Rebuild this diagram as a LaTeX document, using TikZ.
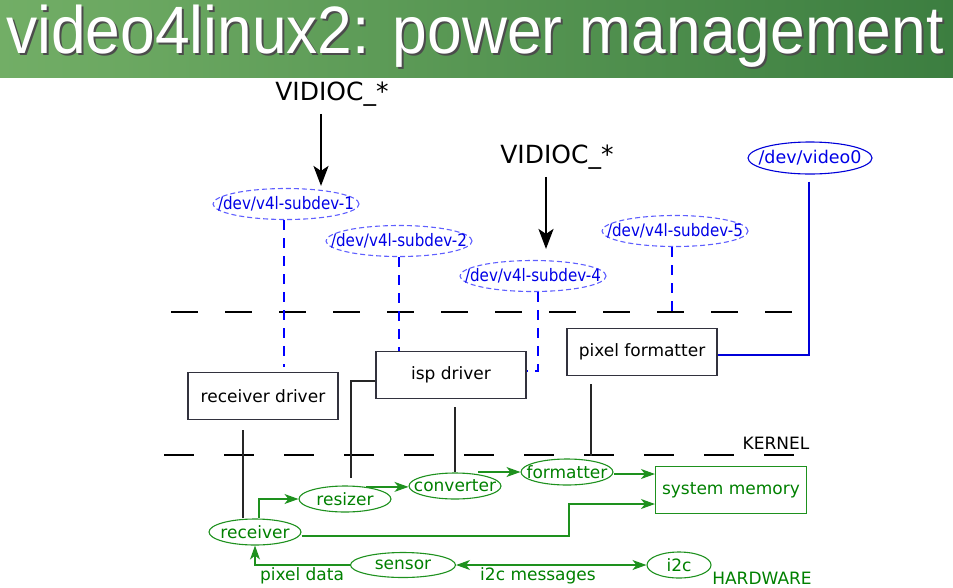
\documentclass[tikz,border=0pt]{standalone}
\usepackage{fontspec}
\setmainfont{DejaVu Sans}
\newfontfamily\titlefont{Liberation Sans}
\usetikzlibrary{shapes.geometric,arrows.meta}
\definecolor{tgL}{RGB}{114,174,102}
\definecolor{tgR}{RGB}{60,126,64}
\definecolor{hwgreen}{RGB}{0,128,0}
\definecolor{hwline}{RGB}{30,145,30}
\definecolor{devblue}{RGB}{0,0,230}
\definecolor{devline}{RGB}{95,95,255}
\definecolor{boxline}{RGB}{50,50,62}
\newcommand{\devtext}[1]{\scalebox{0.88}[1]{#1}}
\tikzset{
  fs/.style={font=\fontsize{#1}{#1}\selectfont},
  fixell/.style={ellipse, inner xsep=-80pt, inner ysep=-20pt},
  devnode/.style={fixell, draw=devline, dash pattern=on 5pt off 3pt, line width=1.1pt, text=devblue, fs=17.2, minimum width=146pt, minimum height=31pt},
  drvbox/.style={rectangle, draw=boxline, line width=1.3pt, fs=17, minimum width=150pt, minimum height=47pt, inner sep=0pt},
  hwnode/.style={fixell, draw=hwline, line width=1.1pt, text=hwgreen, fs=17, minimum width=92pt, minimum height=26pt},
  sepline/.style={line width=2.6pt, black},
  devlink/.style={draw=blue, line width=2.2pt, dash pattern=on 10pt off 8pt},
  drvlink/.style={draw=black!85, line width=1.4pt},
  garrow/.style={draw=hwline, line width=1.2pt, -{Stealth[length=14pt,width=10pt,inset=4pt]}},
  gdouble/.style={draw=hwline, line width=1.2pt, {Stealth[length=14pt,width=10pt,inset=4pt]}-{Stealth[length=14pt,width=10pt,inset=4pt]}},
  bigarrow/.style={draw=black, line width=2.5pt, -{Stealth[length=20pt,width=15pt,inset=5pt]}},
}
\begin{document}
\begin{tikzpicture}[x=1pt,y=-1pt]
\useasboundingbox (0,0) rectangle (953,587);
% title banner
\shade[left color=tgL,right color=tgR] (0,0) rectangle (953,77);
\node[font=\titlefont\fontsize{67}{67}\selectfont, text=black!70, anchor=base] (titleshadow) at (477,55) {\scalebox{0.93}[1]{video4linux2: power management}};
\node[font=\titlefont\fontsize{67}{67}\selectfont, text=white, anchor=base] (title) at (475,53) {\scalebox{0.93}[1]{video4linux2: power management}};

% separators
\coordinate (ul) at (171,312); \coordinate (ur) at (800,312);
\draw[sepline, dash pattern=on 27pt off 27pt] (ul) -- (ur);
\coordinate (kl) at (164,455); \coordinate (kr) at (796,455);
\draw[sepline, dash pattern=on 30pt off 30pt] (kl) -- (kr);
\node[fs=17, anchor=center] (kernel) at (776,443) {KERNEL};
\node[fs=17, text=hwgreen, anchor=center] (hardware) at (762,578) {HARDWARE};

% ioctl labels
\node[fs=25] (vid1) at (332,94) {VIDIOC\_*};
\node[fs=25] (vid2) at (557,157) {VIDIOC\_*};

% device nodes
\node[devnode] (dev1) at (286,204) {\devtext{/dev/v4l-subdev-1}};
\node[devnode] (dev2) at (399,241) {\devtext{/dev/v4l-subdev-2}};
\node[devnode] (dev4) at (533,276) {\devtext{/dev/v4l-subdev-4}};
\node[devnode] (dev5) at (675,231) {\devtext{/dev/v4l-subdev-5}};
\node[fixell, draw=blue!85!black, line width=1.1pt, text=devblue, fs=17.5, minimum width=124pt, minimum height=32pt] (video0) at (810,158) {/dev/video0};

% drivers
\node[drvbox] (recv) at (263,396) {receiver driver};
\node[drvbox] (isp) at (451,375) {isp driver};
\node[drvbox] (pixfmt) at (642,352) {pixel formatter};

% hardware
\node[hwnode] (rcv) at (255,532) {receiver};
\node[hwnode] (resz) at (345,499) {resizer};
\node[hwnode] (conv) at (455,486) {converter};
\node[hwnode] (fmt) at (567,472) {formatter};
\node[rectangle, draw=hwline, line width=1.1pt, text=hwgreen, fs=17, minimum width=151pt, minimum height=47pt, inner sep=0pt] (mem) at (731,490) {system memory};
\node[hwnode, minimum width=105pt, minimum height=25pt] (sens) at (403,565) {sensor};
\node[hwnode, minimum width=64pt, minimum height=26pt] (i2c) at (679,565) {i2c};
\node[fs=17, text=hwgreen] (pixlbl) at (302,576) {pixel data};
\node[fs=17, text=hwgreen] (i2clbl) at (538,576) {i2c messages};

% ioctl arrows
\draw[bigarrow] ([xshift=-11pt,yshift=-4pt]vid1.south) -- ([xshift=-11pt,yshift=2pt]vid1.south |- dev1.north);
\draw[bigarrow] ([xshift=-11pt,yshift=-4pt]vid2.south) -- ([xshift=-11pt,yshift=11pt]vid2.south |- dev4.north);
% device links
\draw[devlink] ([xshift=-2pt]dev1.south) -- ([xshift=-2pt,yshift=5pt]dev1.south |- recv.north);
\draw[devlink] (dev2.south) -- (dev2.south |- isp.north);
\coordinate (d4bend) at (538,371);
\draw[devlink] ([xshift=5pt]dev4.south) -- (d4bend) -- (d4bend -| isp.east);
\coordinate (d5end) at (672,318);
\draw[devlink] ([xshift=-3pt]dev5.south) -- (d5end);
\coordinate (v0bend) at (809,355);
\draw[draw=blue!85!black, line width=1.2pt] ([xshift=-1pt,yshift=-7pt]video0.south) -- (v0bend) -- (v0bend -| pixfmt.east);

% driver to hardware links
\draw[drvlink] ([shift={(-20pt,-10pt)}]recv.south) -- ([xshift=-12pt]rcv.north);
\coordinate (ispbend) at (351,381);
\coordinate (ispend) at (351,478);
\draw[drvlink] (ispbend -| isp.west) -- (ispbend) -- (ispend);
\draw[drvlink] ([shift={(4pt,-8pt)}]isp.south) -- (conv.north);
\coordinate (pfend) at (591,456);
\draw[drvlink] ([shift={(-51pt,-8pt)}]pixfmt.south) -- (pfend);

% hardware data flow
\draw[garrow] ([xshift=4pt]rcv.north) |- (resz.west);
\draw[garrow] (resz.30) -- (resz.30 -| conv.west);
\draw[garrow] ([xshift=23pt]conv.north |- fmt.west) -- (fmt.west);
\draw[garrow] ([yshift=-2pt]fmt.east) -- ([yshift=-2pt]fmt.east -| mem.west);
\coordinate (rmbend) at (569,520);
\draw[garrow] ([yshift=-4pt]rcv.east) -| (rmbend) |- ([yshift=-14pt]mem.west);
\draw[garrow] (sens.west) -| (rcv.south);
\draw[gdouble] (sens.east) -- (i2c.west);
\end{tikzpicture}
\end{document}
